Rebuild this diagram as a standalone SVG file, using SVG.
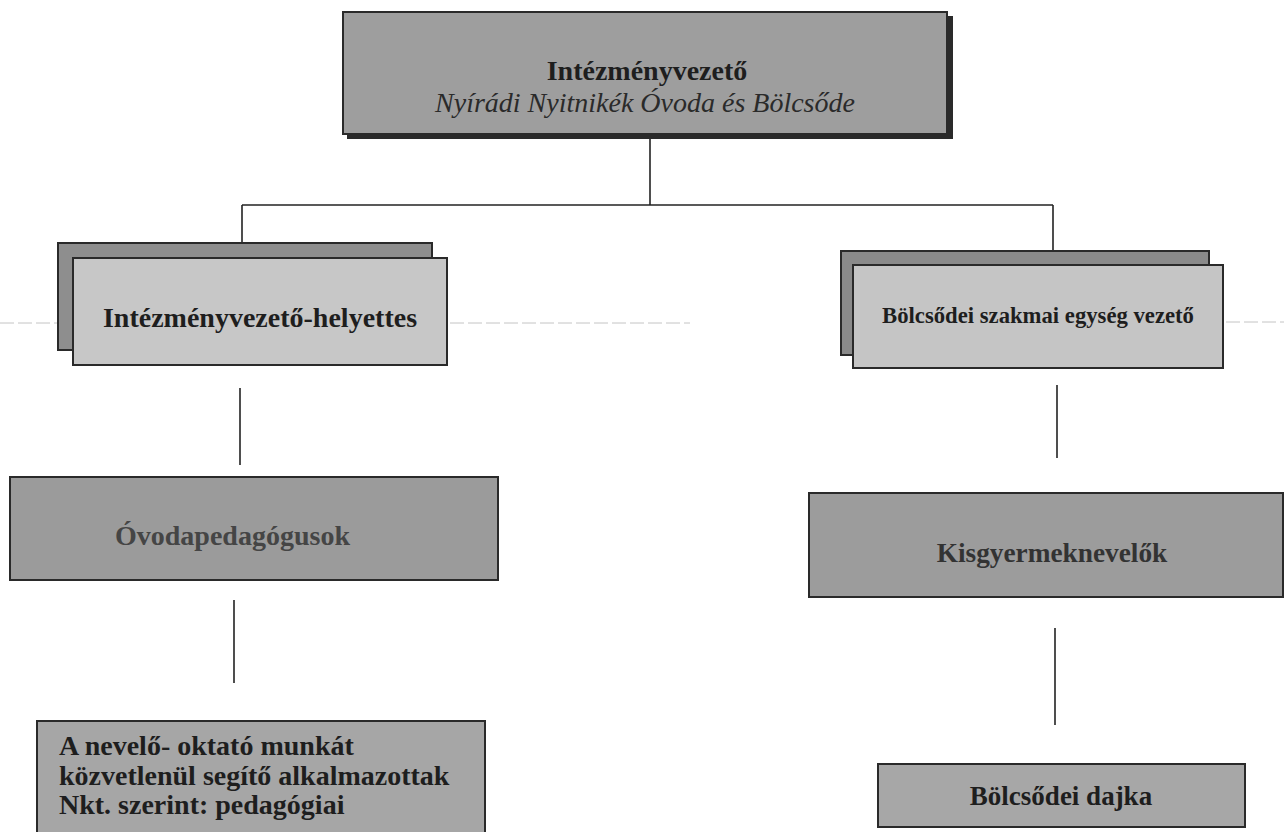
<svg xmlns="http://www.w3.org/2000/svg" width="1284" height="832" viewBox="0 0 1284 832">
<style>
.box{stroke:#2a2a2a;stroke-width:2}
.t{font-family:"Liberation Serif","Times New Roman",serif;font-weight:bold;fill:#1e1e1e}
.c{stroke:#222;stroke-width:1.6;fill:none}
.faint{stroke:#c4c4c4;stroke-width:1;stroke-dasharray:14 4}
</style>
<rect width="1284" height="832" fill="#ffffff"/>
<g id="artifacts">
<line class="faint" x1="0" y1="323" x2="690" y2="323"/>
<line class="faint" x1="1226" y1="322" x2="1284" y2="322"/>
</g>
<g id="connectors">
<line class="c" x1="650" y1="138" x2="650" y2="205"/>
<line class="c" x1="242" y1="205" x2="1053" y2="205"/>
<line class="c" x1="242" y1="205" x2="242" y2="243"/>
<line class="c" x1="1053" y1="205" x2="1053" y2="265"/>
<line class="c" x1="240" y1="388" x2="240" y2="465"/>
<line class="c" x1="1057" y1="385" x2="1057" y2="458"/>
<line class="c" x1="234" y1="600" x2="234" y2="683"/>
<line class="c" x1="1055" y1="628" x2="1055" y2="725"/>
</g>
<g id="intezmenyvezeto">
<rect x="347" y="16" width="606" height="123" fill="#2a2a2a"/>
<rect class="box" x="343" y="12" width="604" height="122" fill="#9e9e9e"/>
<text class="t" x="647" y="80" font-size="28" text-anchor="middle">Intézményvezető</text>
<text x="645" y="112" font-size="28" text-anchor="middle" font-family="'Liberation Serif','Times New Roman',serif" font-style="italic" fill="#2a2a2a">Nyírádi Nyitnikék Óvoda és Bölcsőde</text>
</g>
<g id="helyettes">
<rect class="box" x="58" y="243" width="374" height="107" fill="#8e8e8e"/>
<rect class="box" x="73" y="258" width="374" height="107" fill="#c7c7c7"/>
<text class="t" x="260" y="327" font-size="28" text-anchor="middle">Intézményvezető-helyettes</text>
</g>
<g id="bolcsodei-vezeto">
<rect class="box" x="841" y="251" width="368" height="104" fill="#8a8a8a"/>
<rect class="box" x="853" y="265" width="370" height="103" fill="#c5c5c5"/>
<text class="t" x="1038" y="323" font-size="22.7" text-anchor="middle">Bölcsődei szakmai egység vezető</text>
</g>
<g id="ovodapedagogusok">
<rect class="box" x="10" y="477" width="488" height="103" fill="#9b9b9b"/>
<text class="t" x="115" y="545" font-size="28" style="fill:#454545">Óvodapedagógusok</text>
</g>
<g id="kisgyermeknevelok">
<rect class="box" x="809" y="493" width="474" height="104" fill="#9c9c9c"/>
<text class="t" x="1052" y="562" font-size="27.3" text-anchor="middle" style="fill:#333">Kisgyermeknevelők</text>
</g>
<g id="segito">
<rect class="box" x="37" y="721" width="448" height="121" fill="#a6a6a6"/>
<text class="t" x="59" y="755" font-size="28">A nevelő- oktató munkát</text>
<text class="t" x="59" y="785" font-size="28">közvetlenül segítő alkalmazottak</text>
<text class="t" x="59" y="814" font-size="28">Nkt. szerint: pedagógiai</text>
</g>
<g id="bolcsodei-dajka">
<rect class="box" x="878" y="764" width="367" height="63" fill="#a7a7a7"/>
<text class="t" x="1061" y="805" font-size="27" text-anchor="middle">Bölcsődei dajka</text>
</g>
</svg>
